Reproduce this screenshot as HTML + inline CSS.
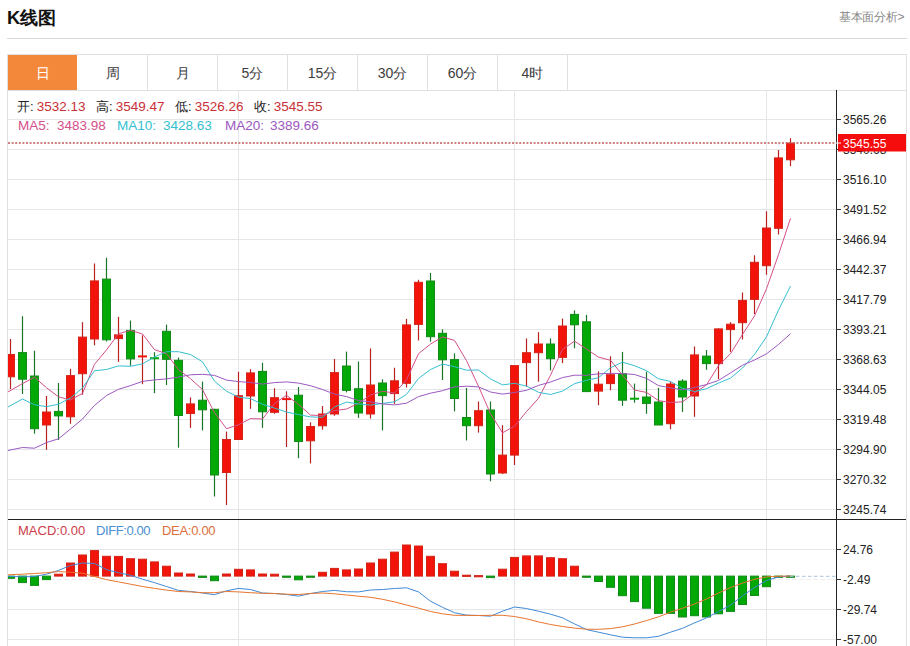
<!DOCTYPE html>
<html><head><meta charset="utf-8">
<style>
*{margin:0;padding:0;box-sizing:border-box}
html,body{width:910px;height:646px;overflow:hidden;background:#fff;font-family:"Liberation Sans",sans-serif}
.title{position:absolute;left:7px;top:6.6px;font-size:18.3px;font-weight:bold;color:#111;line-height:22px;letter-spacing:0}
.more{position:absolute;left:839px;top:10px;font-size:12px;color:#888;line-height:14px;letter-spacing:-0.3px}
.hline{position:absolute;left:7px;top:38px;width:900px;height:1px;background:#d8d8d8}
.box{position:absolute;left:7px;top:54px;width:900px;height:600px;border:1px solid #e0e0e0}
.tabs{position:absolute;left:8px;top:55px;height:35px}
.tab{position:absolute;top:0;width:70px;height:35px;line-height:37px;text-align:center;font-size:14px;color:#3c3c3c;border-right:1px solid #e0e0e0}
.tab.on{background:#f3883b;color:#fff;width:69px;border-right:none}
svg{position:absolute;left:0;top:0}
.g{stroke:#e4e6e9;stroke-width:1}
.ax{font-size:12px;fill:#222;font-family:"Liberation Sans",sans-serif}
.t{position:absolute;font-size:13px;line-height:15px;white-space:nowrap}
.k{color:#222}.v{color:#c83038;font-size:13.5px}
</style></head><body>
<div class="title">K线图</div>
<div class="more">基本面分析&gt;</div>
<div class="hline"></div>
<div class="box"></div>
<div class="tabs">
<div class="tab on" style="left:0">日</div>
<div class="tab" style="left:70px">周</div>
<div class="tab" style="left:140px">月</div>
<div class="tab" style="left:210px">5分</div>
<div class="tab" style="left:280px">15分</div>
<div class="tab" style="left:350px">30分</div>
<div class="tab" style="left:420px">60分</div>
<div class="tab" style="left:490px">4时</div>
</div>
<svg width="910" height="646" viewBox="0 0 910 646">
<defs><clipPath id="cm"><rect x="8" y="91" width="828" height="428"/></clipPath>
<clipPath id="cd"><rect x="8" y="520" width="828" height="126"/></clipPath></defs>
<line x1="8" y1="90.5" x2="907" y2="90.5" stroke="#e0e0e0"/>
<line x1="8" y1="119.5" x2="836" y2="119.5" class="g"/>
<line x1="8" y1="149.5" x2="836" y2="149.5" class="g"/>
<line x1="8" y1="179.5" x2="836" y2="179.5" class="g"/>
<line x1="8" y1="209.5" x2="836" y2="209.5" class="g"/>
<line x1="8" y1="239.5" x2="836" y2="239.5" class="g"/>
<line x1="8" y1="269.5" x2="836" y2="269.5" class="g"/>
<line x1="8" y1="299.5" x2="836" y2="299.5" class="g"/>
<line x1="8" y1="329.5" x2="836" y2="329.5" class="g"/>
<line x1="8" y1="359.5" x2="836" y2="359.5" class="g"/>
<line x1="8" y1="389.5" x2="836" y2="389.5" class="g"/>
<line x1="8" y1="419.5" x2="836" y2="419.5" class="g"/>
<line x1="8" y1="449.5" x2="836" y2="449.5" class="g"/>
<line x1="8" y1="479.5" x2="836" y2="479.5" class="g"/>
<line x1="8" y1="509.5" x2="836" y2="509.5" class="g"/>
<line x1="238.5" y1="90" x2="238.5" y2="519" class="g"/>
<line x1="238.5" y1="519" x2="238.5" y2="646" class="g"/>
<line x1="514.5" y1="90" x2="514.5" y2="519" class="g"/>
<line x1="514.5" y1="519" x2="514.5" y2="646" class="g"/>
<line x1="766.5" y1="90" x2="766.5" y2="519" class="g"/>
<line x1="766.5" y1="519" x2="766.5" y2="646" class="g"/>
<line x1="8" y1="549.5" x2="836" y2="549.5" class="g"/>
<line x1="8" y1="609.5" x2="836" y2="609.5" class="g"/>
<line x1="8" y1="639.5" x2="836" y2="639.5" class="g"/>
<line x1="8" y1="579.5" x2="836" y2="579.5" stroke="#eceef1" stroke-dasharray="5,2"/>
<g clip-path="url(#cm)">
<line x1="10.5" y1="339" x2="10.5" y2="389" stroke="#b82222" stroke-width="1.2"/>
<rect x="6.5" y="354.5" width="8" height="22.3" fill="#f2140a" stroke="#d42418" stroke-width="1"/>
<line x1="22.5" y1="316.2" x2="22.5" y2="394" stroke="#1c7428" stroke-width="1.2"/>
<rect x="18.5" y="352.6" width="8" height="26.6" fill="#02a806" stroke="#128a18" stroke-width="1"/>
<line x1="34.5" y1="350.7" x2="34.5" y2="433.7" stroke="#1c7428" stroke-width="1.2"/>
<rect x="30.5" y="376" width="8" height="52.7" fill="#02a806" stroke="#128a18" stroke-width="1"/>
<line x1="46.5" y1="396" x2="46.5" y2="449.8" stroke="#b82222" stroke-width="1.2"/>
<rect x="42.5" y="412" width="8" height="13" fill="#f2140a" stroke="#d42418" stroke-width="1"/>
<line x1="58.5" y1="383" x2="58.5" y2="440" stroke="#1c7428" stroke-width="1.2"/>
<rect x="54.5" y="411.4" width="8" height="4.5" fill="#02a806" stroke="#128a18" stroke-width="1"/>
<line x1="70.5" y1="368.8" x2="70.5" y2="423.8" stroke="#b82222" stroke-width="1.2"/>
<rect x="66.5" y="375.6" width="8" height="41.2" fill="#f2140a" stroke="#d42418" stroke-width="1"/>
<line x1="82.5" y1="322.2" x2="82.5" y2="394.8" stroke="#b82222" stroke-width="1.2"/>
<rect x="78.5" y="337.1" width="8" height="36.6" fill="#f2140a" stroke="#d42418" stroke-width="1"/>
<line x1="94.5" y1="263.5" x2="94.5" y2="345.3" stroke="#b82222" stroke-width="1.2"/>
<rect x="90.5" y="280.9" width="8" height="58.1" fill="#f2140a" stroke="#d42418" stroke-width="1"/>
<line x1="106.5" y1="257.8" x2="106.5" y2="341.5" stroke="#1c7428" stroke-width="1.2"/>
<rect x="102.5" y="279.1" width="8" height="60.7" fill="#02a806" stroke="#128a18" stroke-width="1"/>
<line x1="118.5" y1="316.8" x2="118.5" y2="361.9" stroke="#b82222" stroke-width="1.2"/>
<rect x="114.5" y="334.9" width="8" height="3.7" fill="#f2140a" stroke="#d42418" stroke-width="1"/>
<line x1="130.5" y1="320.5" x2="130.5" y2="365.8" stroke="#1c7428" stroke-width="1.2"/>
<rect x="126.5" y="330.4" width="8" height="28.5" fill="#02a806" stroke="#128a18" stroke-width="1"/>
<line x1="142.5" y1="335.4" x2="142.5" y2="384.2" stroke="#b82222" stroke-width="1.2"/>
<rect x="138" y="355.4" width="9" height="2" fill="#f2140a"/>
<line x1="154.5" y1="352.2" x2="154.5" y2="393.2" stroke="#1c7428" stroke-width="1.2"/>
<rect x="150" y="357.2" width="9" height="2" fill="#02a806"/>
<line x1="166.5" y1="324.6" x2="166.5" y2="385" stroke="#1c7428" stroke-width="1.2"/>
<rect x="162.5" y="331.3" width="8" height="28" fill="#02a806" stroke="#128a18" stroke-width="1"/>
<line x1="178.5" y1="357.5" x2="178.5" y2="447.7" stroke="#1c7428" stroke-width="1.2"/>
<rect x="174.5" y="360.3" width="8" height="55.2" fill="#02a806" stroke="#128a18" stroke-width="1"/>
<line x1="190.5" y1="397.4" x2="190.5" y2="427.9" stroke="#b82222" stroke-width="1.2"/>
<rect x="186.5" y="403.9" width="8" height="9.6" fill="#f2140a" stroke="#d42418" stroke-width="1"/>
<line x1="202.5" y1="381.6" x2="202.5" y2="430.4" stroke="#1c7428" stroke-width="1.2"/>
<rect x="198.5" y="400.2" width="8" height="9.6" fill="#02a806" stroke="#128a18" stroke-width="1"/>
<line x1="214.5" y1="408.8" x2="214.5" y2="496.5" stroke="#1c7428" stroke-width="1.2"/>
<rect x="210.5" y="409.3" width="8" height="65.7" fill="#02a806" stroke="#128a18" stroke-width="1"/>
<line x1="226.5" y1="431.6" x2="226.5" y2="505" stroke="#b82222" stroke-width="1.2"/>
<rect x="222.5" y="439.5" width="8" height="33" fill="#f2140a" stroke="#d42418" stroke-width="1"/>
<line x1="238.5" y1="371.7" x2="238.5" y2="439.5" stroke="#b82222" stroke-width="1.2"/>
<rect x="234.5" y="395.7" width="8" height="43.8" fill="#f2140a" stroke="#d42418" stroke-width="1"/>
<line x1="250.5" y1="369.2" x2="250.5" y2="408.8" stroke="#b82222" stroke-width="1.2"/>
<rect x="246.5" y="372.9" width="8" height="23.1" fill="#f2140a" stroke="#d42418" stroke-width="1"/>
<line x1="262.5" y1="362.8" x2="262.5" y2="427.9" stroke="#1c7428" stroke-width="1.2"/>
<rect x="258.5" y="371.4" width="8" height="40.4" fill="#02a806" stroke="#128a18" stroke-width="1"/>
<line x1="274.5" y1="388.3" x2="274.5" y2="413.8" stroke="#b82222" stroke-width="1.2"/>
<rect x="270.5" y="397.7" width="8" height="14.6" fill="#f2140a" stroke="#d42418" stroke-width="1"/>
<line x1="286.5" y1="391.3" x2="286.5" y2="447" stroke="#b82222" stroke-width="1.2"/>
<rect x="282" y="398.1" width="9" height="2" fill="#f2140a"/>
<line x1="298.5" y1="387" x2="298.5" y2="458.2" stroke="#1c7428" stroke-width="1.2"/>
<rect x="294.5" y="395.2" width="8" height="46.3" fill="#02a806" stroke="#128a18" stroke-width="1"/>
<line x1="310.5" y1="422.3" x2="310.5" y2="463.5" stroke="#b82222" stroke-width="1.2"/>
<rect x="306.5" y="426.5" width="8" height="14.3" fill="#f2140a" stroke="#d42418" stroke-width="1"/>
<line x1="322.5" y1="406" x2="322.5" y2="429.7" stroke="#b82222" stroke-width="1.2"/>
<rect x="318.5" y="414" width="8" height="11.8" fill="#f2140a" stroke="#d42418" stroke-width="1"/>
<line x1="334.5" y1="359" x2="334.5" y2="415.8" stroke="#b82222" stroke-width="1.2"/>
<rect x="330.5" y="372.6" width="8" height="41.4" fill="#f2140a" stroke="#d42418" stroke-width="1"/>
<line x1="346.5" y1="351.6" x2="346.5" y2="392.4" stroke="#1c7428" stroke-width="1.2"/>
<rect x="342.5" y="366" width="8" height="24.4" fill="#02a806" stroke="#128a18" stroke-width="1"/>
<line x1="358.5" y1="361.5" x2="358.5" y2="417.9" stroke="#1c7428" stroke-width="1.2"/>
<rect x="354.5" y="388.7" width="8" height="24.3" fill="#02a806" stroke="#128a18" stroke-width="1"/>
<line x1="370.5" y1="348.4" x2="370.5" y2="418.6" stroke="#b82222" stroke-width="1.2"/>
<rect x="366.5" y="385" width="8" height="29" fill="#f2140a" stroke="#d42418" stroke-width="1"/>
<line x1="382.5" y1="379.3" x2="382.5" y2="430.4" stroke="#1c7428" stroke-width="1.2"/>
<rect x="378.5" y="383" width="8" height="12.6" fill="#02a806" stroke="#128a18" stroke-width="1"/>
<line x1="394.5" y1="367.7" x2="394.5" y2="403.9" stroke="#b82222" stroke-width="1.2"/>
<rect x="390.5" y="380.8" width="8" height="12.8" fill="#f2140a" stroke="#d42418" stroke-width="1"/>
<line x1="406.5" y1="318.9" x2="406.5" y2="387.5" stroke="#b82222" stroke-width="1.2"/>
<rect x="402.5" y="324.9" width="8" height="58.4" fill="#f2140a" stroke="#d42418" stroke-width="1"/>
<line x1="418.5" y1="279.8" x2="418.5" y2="340.4" stroke="#b82222" stroke-width="1.2"/>
<rect x="414.5" y="282.3" width="8" height="42.1" fill="#f2140a" stroke="#d42418" stroke-width="1"/>
<line x1="430.5" y1="272.9" x2="430.5" y2="341.7" stroke="#1c7428" stroke-width="1.2"/>
<rect x="426.5" y="281" width="8" height="55.7" fill="#02a806" stroke="#128a18" stroke-width="1"/>
<line x1="442.5" y1="329.3" x2="442.5" y2="380" stroke="#1c7428" stroke-width="1.2"/>
<rect x="438.5" y="333.3" width="8" height="26.5" fill="#02a806" stroke="#128a18" stroke-width="1"/>
<line x1="454.5" y1="353.4" x2="454.5" y2="411.4" stroke="#1c7428" stroke-width="1.2"/>
<rect x="450.5" y="359.6" width="8" height="38.9" fill="#02a806" stroke="#128a18" stroke-width="1"/>
<line x1="466.5" y1="387.9" x2="466.5" y2="440.5" stroke="#1c7428" stroke-width="1.2"/>
<rect x="462.5" y="417.5" width="8" height="8.2" fill="#02a806" stroke="#128a18" stroke-width="1"/>
<line x1="478.5" y1="401.5" x2="478.5" y2="432.6" stroke="#b82222" stroke-width="1.2"/>
<rect x="474.5" y="410.7" width="8" height="15" fill="#f2140a" stroke="#d42418" stroke-width="1"/>
<line x1="490.5" y1="401.5" x2="490.5" y2="481.3" stroke="#1c7428" stroke-width="1.2"/>
<rect x="486.5" y="410" width="8" height="64" fill="#02a806" stroke="#128a18" stroke-width="1"/>
<line x1="502.5" y1="425.1" x2="502.5" y2="474" stroke="#b82222" stroke-width="1.2"/>
<rect x="498.5" y="455.1" width="8" height="17.9" fill="#f2140a" stroke="#d42418" stroke-width="1"/>
<line x1="514.5" y1="365.6" x2="514.5" y2="465" stroke="#b82222" stroke-width="1.2"/>
<rect x="510.5" y="365.6" width="8" height="89.5" fill="#f2140a" stroke="#d42418" stroke-width="1"/>
<line x1="526.5" y1="338.4" x2="526.5" y2="386.6" stroke="#b82222" stroke-width="1.2"/>
<rect x="522.5" y="352.7" width="8" height="9.9" fill="#f2140a" stroke="#d42418" stroke-width="1"/>
<line x1="538.5" y1="332.2" x2="538.5" y2="381.7" stroke="#b82222" stroke-width="1.2"/>
<rect x="534.5" y="344" width="8" height="8.7" fill="#f2140a" stroke="#d42418" stroke-width="1"/>
<line x1="550.5" y1="338.4" x2="550.5" y2="370.5" stroke="#1c7428" stroke-width="1.2"/>
<rect x="546.5" y="344" width="8" height="14.7" fill="#02a806" stroke="#128a18" stroke-width="1"/>
<line x1="562.5" y1="318.6" x2="562.5" y2="363.1" stroke="#b82222" stroke-width="1.2"/>
<rect x="558.5" y="326" width="8" height="31.4" fill="#f2140a" stroke="#d42418" stroke-width="1"/>
<line x1="574.5" y1="310.4" x2="574.5" y2="348.3" stroke="#1c7428" stroke-width="1.2"/>
<rect x="570.5" y="314.4" width="8" height="10.4" fill="#02a806" stroke="#128a18" stroke-width="1"/>
<line x1="586.5" y1="314.9" x2="586.5" y2="391.6" stroke="#1c7428" stroke-width="1.2"/>
<rect x="582.5" y="321.8" width="8" height="69.8" fill="#02a806" stroke="#128a18" stroke-width="1"/>
<line x1="598.5" y1="371.3" x2="598.5" y2="405.2" stroke="#b82222" stroke-width="1.2"/>
<rect x="594.5" y="384.2" width="8" height="6.9" fill="#f2140a" stroke="#d42418" stroke-width="1"/>
<line x1="610.5" y1="356.3" x2="610.5" y2="390.3" stroke="#b82222" stroke-width="1.2"/>
<rect x="606.5" y="374.7" width="8" height="8.9" fill="#f2140a" stroke="#d42418" stroke-width="1"/>
<line x1="622.5" y1="351.9" x2="622.5" y2="405.9" stroke="#1c7428" stroke-width="1.2"/>
<rect x="618.5" y="373.7" width="8" height="26.5" fill="#02a806" stroke="#128a18" stroke-width="1"/>
<line x1="634.5" y1="383.6" x2="634.5" y2="402.7" stroke="#1c7428" stroke-width="1.2"/>
<rect x="630" y="397.7" width="9" height="2" fill="#02a806"/>
<line x1="646.5" y1="371.7" x2="646.5" y2="413.8" stroke="#1c7428" stroke-width="1.2"/>
<rect x="642.5" y="397" width="8" height="6.4" fill="#02a806" stroke="#128a18" stroke-width="1"/>
<line x1="658.5" y1="387.8" x2="658.5" y2="425" stroke="#1c7428" stroke-width="1.2"/>
<rect x="654.5" y="402" width="8" height="23" fill="#02a806" stroke="#128a18" stroke-width="1"/>
<line x1="670.5" y1="381.6" x2="670.5" y2="429.2" stroke="#b82222" stroke-width="1.2"/>
<rect x="666.5" y="384" width="8" height="39.7" fill="#f2140a" stroke="#d42418" stroke-width="1"/>
<line x1="682.5" y1="379.2" x2="682.5" y2="411.9" stroke="#1c7428" stroke-width="1.2"/>
<rect x="678.5" y="381.1" width="8" height="15.9" fill="#02a806" stroke="#128a18" stroke-width="1"/>
<line x1="694.5" y1="346.5" x2="694.5" y2="416.8" stroke="#b82222" stroke-width="1.2"/>
<rect x="690.5" y="354.9" width="8" height="41.1" fill="#f2140a" stroke="#d42418" stroke-width="1"/>
<line x1="706.5" y1="350" x2="706.5" y2="369.8" stroke="#1c7428" stroke-width="1.2"/>
<rect x="702.5" y="356.1" width="8" height="7.5" fill="#02a806" stroke="#128a18" stroke-width="1"/>
<line x1="718.5" y1="328.4" x2="718.5" y2="379.2" stroke="#b82222" stroke-width="1.2"/>
<rect x="714.5" y="328.9" width="8" height="34.7" fill="#f2140a" stroke="#d42418" stroke-width="1"/>
<line x1="730.5" y1="322.2" x2="730.5" y2="351.9" stroke="#b82222" stroke-width="1.2"/>
<rect x="726.5" y="324.2" width="8" height="5.4" fill="#f2140a" stroke="#d42418" stroke-width="1"/>
<line x1="742.5" y1="292.5" x2="742.5" y2="339.5" stroke="#b82222" stroke-width="1.2"/>
<rect x="738.5" y="300.4" width="8" height="22.3" fill="#f2140a" stroke="#d42418" stroke-width="1"/>
<line x1="754.5" y1="255.3" x2="754.5" y2="314" stroke="#b82222" stroke-width="1.2"/>
<rect x="750.5" y="262.3" width="8" height="37.1" fill="#f2140a" stroke="#d42418" stroke-width="1"/>
<line x1="766.5" y1="211.3" x2="766.5" y2="274.8" stroke="#b82222" stroke-width="1.2"/>
<rect x="762.5" y="228" width="8" height="37.7" fill="#f2140a" stroke="#d42418" stroke-width="1"/>
<line x1="778.5" y1="150" x2="778.5" y2="234.5" stroke="#b82222" stroke-width="1.2"/>
<rect x="774.5" y="157.9" width="8" height="70.4" fill="#f2140a" stroke="#d42418" stroke-width="1"/>
<line x1="790.5" y1="138.2" x2="790.5" y2="166.2" stroke="#b82222" stroke-width="1.2"/>
<rect x="786.5" y="143.1" width="8" height="16.7" fill="#f2140a" stroke="#d42418" stroke-width="1"/>
<path d="M8,391.9 L22.5,383.6 L34.5,377.2 L46.5,387.8 L58.5,396.8 L70.5,400 L82.5,393.4 L94.5,364.3 L106.5,349.9 L118.5,333.7 L130.5,330.3 L142.5,334 L154.5,349.7 L166.5,353.6 L178.5,369.7 L190.5,378.7 L202.5,389.6 L214.5,412.7 L226.5,428.7 L238.5,424.8 L250.5,418.6 L262.5,419 L274.5,403.5 L286.5,395.3 L298.5,404.4 L310.5,415.1 L322.5,415.6 L334.5,410.6 L346.5,409 L358.5,403.3 L370.5,395 L382.5,391.3 L394.5,393 L406.5,379.9 L418.5,353.7 L430.5,344.1 L442.5,336.9 L454.5,340.4 L466.5,360.6 L478.5,386.3 L490.5,413.7 L502.5,432.8 L514.5,426.2 L526.5,411.6 L538.5,398.3 L550.5,375.2 L562.5,349.4 L574.5,341.2 L586.5,349 L598.5,357.1 L610.5,360.3 L622.5,375.1 L634.5,390.1 L646.5,392.4 L658.5,400.6 L670.5,402.5 L682.5,401.8 L694.5,392.9 L706.5,384.9 L718.5,365.7 L730.5,353.7 L742.5,334.4 L754.5,315.9 L766.5,288.8 L778.5,254.6 L790.5,218.3" fill="none" stroke="#d4508a" stroke-width="1"/>
<path d="M8,407 L22.5,399 L34.5,404.8 L46.5,406.6 L58.5,404.2 L70.5,398 L82.5,388 L94.5,370.7 L106.5,369.5 L118.5,365.9 L130.5,366.3 L142.5,363.9 L154.5,357 L166.5,351.7 L178.5,351.7 L190.5,354.5 L202.5,361.8 L214.5,381.2 L226.5,391.2 L238.5,397.2 L250.5,398.6 L262.5,404.3 L274.5,408.1 L286.5,412 L298.5,414.6 L310.5,416.9 L322.5,417.3 L334.5,407 L346.5,402.1 L358.5,403.9 L370.5,405.1 L382.5,403.4 L394.5,401.8 L406.5,394.4 L418.5,378.5 L430.5,369.5 L442.5,364.1 L454.5,366.7 L466.5,370.2 L478.5,370 L490.5,378.9 L502.5,384.9 L514.5,383.3 L526.5,386.1 L538.5,392.3 L550.5,394.5 L562.5,391.1 L574.5,383.7 L586.5,380.3 L598.5,377.7 L610.5,367.7 L622.5,362.2 L634.5,365.7 L646.5,370.7 L658.5,378.8 L670.5,381.4 L682.5,388.5 L694.5,391.5 L706.5,388.7 L718.5,383.1 L730.5,378.1 L742.5,368.1 L754.5,354.4 L766.5,336.8 L778.5,310.1 L790.5,286" fill="none" stroke="#35bfd0" stroke-width="1"/>
<path d="M8,450.5 L22.5,447.5 L34.5,448.2 L46.5,442.5 L58.5,438.8 L70.5,429 L82.5,419 L94.5,405.4 L106.5,395.5 L118.5,389.3 L130.5,385.6 L142.5,381.4 L154.5,379.9 L166.5,378.9 L178.5,377 L190.5,374.8 L202.5,374.3 L214.5,375.4 L226.5,380.1 L238.5,381.6 L250.5,382.5 L262.5,384.1 L274.5,382.6 L286.5,381.9 L298.5,383.1 L310.5,385.7 L322.5,389.5 L334.5,394.1 L346.5,396.6 L358.5,400.6 L370.5,401.9 L382.5,403.9 L394.5,404.9 L406.5,403.2 L418.5,396.6 L430.5,393.2 L442.5,390.7 L454.5,386.9 L466.5,386.2 L478.5,386.9 L490.5,392 L502.5,394.1 L514.5,392.5 L526.5,390.3 L538.5,385.4 L550.5,382 L562.5,377.6 L574.5,375.2 L586.5,375.3 L598.5,373.8 L610.5,373.3 L622.5,373.6 L634.5,374.5 L646.5,378.4 L658.5,385.6 L670.5,387.9 L682.5,389.8 L694.5,387.6 L706.5,384.5 L718.5,380.4 L730.5,372.9 L742.5,365.2 L754.5,360 L766.5,353.8 L778.5,344.5 L790.5,333.7" fill="none" stroke="#9c58c0" stroke-width="1"/>
<line x1="8" y1="143" x2="836" y2="143" stroke="#c05858" stroke-width="1.3" stroke-dasharray="2,1.6"/>
</g>
<g clip-path="url(#cd)">
<rect x="6.5" y="576.1" width="8" height="2.2" fill="#02a806" stroke="#128a18" stroke-width="1"/>
<rect x="18.5" y="576.1" width="8" height="6.5" fill="#02a806" stroke="#128a18" stroke-width="1"/>
<rect x="30.5" y="576.1" width="8" height="9.3" fill="#02a806" stroke="#128a18" stroke-width="1"/>
<rect x="42.5" y="576.1" width="8" height="3.5" fill="#02a806" stroke="#128a18" stroke-width="1"/>
<rect x="54.5" y="574.2" width="8" height="1.9" fill="#f2140a" stroke="#d42418" stroke-width="1"/>
<rect x="66.5" y="563" width="8" height="13.1" fill="#f2140a" stroke="#d42418" stroke-width="1"/>
<rect x="78.5" y="555" width="8" height="21.1" fill="#f2140a" stroke="#d42418" stroke-width="1"/>
<rect x="90.5" y="550.6" width="8" height="25.5" fill="#f2140a" stroke="#d42418" stroke-width="1"/>
<rect x="102.5" y="556.3" width="8" height="19.8" fill="#f2140a" stroke="#d42418" stroke-width="1"/>
<rect x="114.5" y="556.4" width="8" height="19.7" fill="#f2140a" stroke="#d42418" stroke-width="1"/>
<rect x="126.5" y="558.7" width="8" height="17.4" fill="#f2140a" stroke="#d42418" stroke-width="1"/>
<rect x="138.5" y="559.2" width="8" height="16.9" fill="#f2140a" stroke="#d42418" stroke-width="1"/>
<rect x="150.5" y="561.9" width="8" height="14.2" fill="#f2140a" stroke="#d42418" stroke-width="1"/>
<rect x="162.5" y="566.2" width="8" height="9.9" fill="#f2140a" stroke="#d42418" stroke-width="1"/>
<rect x="174.5" y="573" width="8" height="3.1" fill="#f2140a" stroke="#d42418" stroke-width="1"/>
<rect x="186.5" y="574" width="8" height="2.1" fill="#f2140a" stroke="#d42418" stroke-width="1"/>
<rect x="198.5" y="576.1" width="8" height="1.3" fill="#02a806" stroke="#128a18" stroke-width="1"/>
<rect x="210.5" y="576.1" width="8" height="4.6" fill="#02a806" stroke="#128a18" stroke-width="1"/>
<rect x="222.5" y="574" width="8" height="2.1" fill="#f2140a" stroke="#d42418" stroke-width="1"/>
<rect x="234.5" y="569.3" width="8" height="6.8" fill="#f2140a" stroke="#d42418" stroke-width="1"/>
<rect x="246.5" y="569.9" width="8" height="6.2" fill="#f2140a" stroke="#d42418" stroke-width="1"/>
<rect x="258.5" y="574" width="8" height="2.1" fill="#f2140a" stroke="#d42418" stroke-width="1"/>
<rect x="270.5" y="574.2" width="8" height="1.9" fill="#f2140a" stroke="#d42418" stroke-width="1"/>
<rect x="282.5" y="576.1" width="8" height="1.2" fill="#02a806" stroke="#128a18" stroke-width="1"/>
<rect x="294.5" y="576.1" width="8" height="3.7" fill="#02a806" stroke="#128a18" stroke-width="1"/>
<rect x="306.5" y="576.1" width="8" height="1.2" fill="#02a806" stroke="#128a18" stroke-width="1"/>
<rect x="318.5" y="572.3" width="8" height="3.8" fill="#f2140a" stroke="#d42418" stroke-width="1"/>
<rect x="330.5" y="568.4" width="8" height="7.7" fill="#f2140a" stroke="#d42418" stroke-width="1"/>
<rect x="342.5" y="569.9" width="8" height="6.2" fill="#f2140a" stroke="#d42418" stroke-width="1"/>
<rect x="354.5" y="569" width="8" height="7.1" fill="#f2140a" stroke="#d42418" stroke-width="1"/>
<rect x="366.5" y="563" width="8" height="13.1" fill="#f2140a" stroke="#d42418" stroke-width="1"/>
<rect x="378.5" y="559.2" width="8" height="16.9" fill="#f2140a" stroke="#d42418" stroke-width="1"/>
<rect x="390.5" y="552.1" width="8" height="24" fill="#f2140a" stroke="#d42418" stroke-width="1"/>
<rect x="402.5" y="545" width="8" height="31.1" fill="#f2140a" stroke="#d42418" stroke-width="1"/>
<rect x="414.5" y="546" width="8" height="30.1" fill="#f2140a" stroke="#d42418" stroke-width="1"/>
<rect x="426.5" y="556.3" width="8" height="19.8" fill="#f2140a" stroke="#d42418" stroke-width="1"/>
<rect x="438.5" y="563.7" width="8" height="12.4" fill="#f2140a" stroke="#d42418" stroke-width="1"/>
<rect x="450.5" y="571.2" width="8" height="4.9" fill="#f2140a" stroke="#d42418" stroke-width="1"/>
<rect x="462.5" y="575.2" width="8" height="1.2" fill="#f2140a" stroke="#d42418" stroke-width="1"/>
<rect x="474.5" y="575.6" width="8" height="1.2" fill="#f2140a" stroke="#d42418" stroke-width="1"/>
<rect x="486.5" y="576.1" width="8" height="1.5" fill="#02a806" stroke="#128a18" stroke-width="1"/>
<rect x="498.5" y="569.2" width="8" height="6.9" fill="#f2140a" stroke="#d42418" stroke-width="1"/>
<rect x="510.5" y="557.4" width="8" height="18.7" fill="#f2140a" stroke="#d42418" stroke-width="1"/>
<rect x="522.5" y="555.9" width="8" height="20.2" fill="#f2140a" stroke="#d42418" stroke-width="1"/>
<rect x="534.5" y="555.9" width="8" height="20.2" fill="#f2140a" stroke="#d42418" stroke-width="1"/>
<rect x="546.5" y="557.7" width="8" height="18.4" fill="#f2140a" stroke="#d42418" stroke-width="1"/>
<rect x="558.5" y="558.7" width="8" height="17.4" fill="#f2140a" stroke="#d42418" stroke-width="1"/>
<rect x="570.5" y="566.2" width="8" height="9.9" fill="#f2140a" stroke="#d42418" stroke-width="1"/>
<rect x="582.5" y="576.1" width="8" height="1.2" fill="#02a806" stroke="#128a18" stroke-width="1"/>
<rect x="594.5" y="576.1" width="8" height="5.4" fill="#02a806" stroke="#128a18" stroke-width="1"/>
<rect x="606.5" y="576.1" width="8" height="11.2" fill="#02a806" stroke="#128a18" stroke-width="1"/>
<rect x="618.5" y="576.1" width="8" height="19.6" fill="#02a806" stroke="#128a18" stroke-width="1"/>
<rect x="630.5" y="576.1" width="8" height="25.5" fill="#02a806" stroke="#128a18" stroke-width="1"/>
<rect x="642.5" y="576.1" width="8" height="32.1" fill="#02a806" stroke="#128a18" stroke-width="1"/>
<rect x="654.5" y="576.1" width="8" height="37.3" fill="#02a806" stroke="#128a18" stroke-width="1"/>
<rect x="666.5" y="576.1" width="8" height="37.3" fill="#02a806" stroke="#128a18" stroke-width="1"/>
<rect x="678.5" y="576.1" width="8" height="40.9" fill="#02a806" stroke="#128a18" stroke-width="1"/>
<rect x="690.5" y="576.1" width="8" height="39.6" fill="#02a806" stroke="#128a18" stroke-width="1"/>
<rect x="702.5" y="576.1" width="8" height="40.9" fill="#02a806" stroke="#128a18" stroke-width="1"/>
<rect x="714.5" y="576.1" width="8" height="37.7" fill="#02a806" stroke="#128a18" stroke-width="1"/>
<rect x="726.5" y="576.1" width="8" height="35.3" fill="#02a806" stroke="#128a18" stroke-width="1"/>
<rect x="738.5" y="576.1" width="8" height="28.4" fill="#02a806" stroke="#128a18" stroke-width="1"/>
<rect x="750.5" y="576.1" width="8" height="19.4" fill="#02a806" stroke="#128a18" stroke-width="1"/>
<rect x="762.5" y="576.1" width="8" height="10.6" fill="#02a806" stroke="#128a18" stroke-width="1"/>
<rect x="774.5" y="576.1" width="8" height="1.2" fill="#02a806" stroke="#128a18" stroke-width="1"/>
<rect x="786.5" y="576.1" width="8" height="1.2" fill="#02a806" stroke="#128a18" stroke-width="1"/>
<path d="M8,576.4 L22.5,576.8 L34.5,576.5 L46.5,574.2 L58.5,570.4 L70.5,565.5 L82.5,563 L94.5,563.5 L106.5,569.6 L118.5,572.7 L130.5,575.3 L142.5,579.2 L154.5,582.7 L166.5,586.5 L178.5,590.4 L190.5,591.5 L202.5,593 L214.5,594.7 L226.5,590.8 L238.5,588.4 L250.5,589.5 L262.5,593 L274.5,593.5 L286.5,594.5 L298.5,596.1 L310.5,593.5 L322.5,591.5 L334.5,590.4 L346.5,591.7 L358.5,591.9 L370.5,590 L382.5,589.5 L394.5,588.5 L406.5,587.8 L418.5,591.9 L430.5,601.2 L442.5,607.3 L454.5,612.7 L466.5,615.1 L478.5,615.5 L490.5,616.2 L502.5,611.2 L514.5,607 L526.5,608.5 L538.5,611.2 L550.5,614.2 L562.5,617.8 L574.5,623.9 L586.5,629.6 L598.5,632.2 L610.5,634.8 L622.5,637.2 L634.5,637.8 L646.5,637.8 L658.5,636.3 L670.5,632.2 L682.5,628.3 L694.5,622.9 L706.5,617.9 L718.5,611.5 L730.5,605.2 L742.5,595.8 L754.5,587.5 L766.5,580.6 L778.5,576.9 L790.5,576" fill="none" stroke="#3f8ad6" stroke-width="1"/>
<path d="M8,574.8 L22.5,574.2 L34.5,573.5 L46.5,572.7 L58.5,571.6 L70.5,572.2 L82.5,573.2 L94.5,576.5 L106.5,579.6 L118.5,581.9 L130.5,584.2 L142.5,586.5 L154.5,588.4 L166.5,590.1 L178.5,591.5 L190.5,591.9 L202.5,592.7 L214.5,592.7 L226.5,591.5 L238.5,591.9 L250.5,592.7 L262.5,593.3 L274.5,593.5 L286.5,594.2 L298.5,594.5 L310.5,593.5 L322.5,593 L334.5,593.8 L346.5,595 L358.5,596.2 L370.5,597.3 L382.5,599.3 L394.5,601.9 L406.5,605 L418.5,608.1 L430.5,611.5 L442.5,613.8 L454.5,615.3 L466.5,615.4 L478.5,615.5 L490.5,615.3 L502.5,615.3 L514.5,616.5 L526.5,618.8 L538.5,621.9 L550.5,624.5 L562.5,626.5 L574.5,628.1 L586.5,629.2 L598.5,629.3 L610.5,628.6 L622.5,626.8 L634.5,624 L646.5,620.6 L658.5,616.8 L670.5,612.2 L682.5,608.3 L694.5,604 L706.5,599 L718.5,593 L730.5,587.5 L742.5,583.1 L754.5,579.3 L766.5,576.9 L778.5,576.3 L790.5,576" fill="none" stroke="#e8752e" stroke-width="1"/>
</g>
<line x1="790" y1="576.3" x2="836" y2="576.3" stroke="#a9c4dc" stroke-width="1" stroke-dasharray="3.5,2.5"/>
<line x1="836.5" y1="90" x2="836.5" y2="646" stroke="#222"/>
<line x1="8" y1="519.5" x2="906" y2="519.5" stroke="#222"/>
<line x1="836" y1="119.5" x2="841" y2="119.5" stroke="#333"/>
<text x="843" y="124" class="ax">3565.26</text>
<line x1="836" y1="149.5" x2="841" y2="149.5" stroke="#333"/>
<text x="843" y="154" class="ax">3540.68</text>
<line x1="836" y1="179.5" x2="841" y2="179.5" stroke="#333"/>
<text x="843" y="184" class="ax">3516.10</text>
<line x1="836" y1="209.5" x2="841" y2="209.5" stroke="#333"/>
<text x="843" y="214" class="ax">3491.52</text>
<line x1="836" y1="239.5" x2="841" y2="239.5" stroke="#333"/>
<text x="843" y="244" class="ax">3466.94</text>
<line x1="836" y1="269.5" x2="841" y2="269.5" stroke="#333"/>
<text x="843" y="274" class="ax">3442.37</text>
<line x1="836" y1="299.5" x2="841" y2="299.5" stroke="#333"/>
<text x="843" y="304" class="ax">3417.79</text>
<line x1="836" y1="329.5" x2="841" y2="329.5" stroke="#333"/>
<text x="843" y="334" class="ax">3393.21</text>
<line x1="836" y1="359.5" x2="841" y2="359.5" stroke="#333"/>
<text x="843" y="364" class="ax">3368.63</text>
<line x1="836" y1="389.5" x2="841" y2="389.5" stroke="#333"/>
<text x="843" y="394" class="ax">3344.05</text>
<line x1="836" y1="419.5" x2="841" y2="419.5" stroke="#333"/>
<text x="843" y="424" class="ax">3319.48</text>
<line x1="836" y1="449.5" x2="841" y2="449.5" stroke="#333"/>
<text x="843" y="454" class="ax">3294.90</text>
<line x1="836" y1="479.5" x2="841" y2="479.5" stroke="#333"/>
<text x="843" y="484" class="ax">3270.32</text>
<line x1="836" y1="509.5" x2="841" y2="509.5" stroke="#333"/>
<text x="843" y="514" class="ax">3245.74</text>
<line x1="836" y1="549.5" x2="841" y2="549.5" stroke="#333"/>
<text x="843" y="554" class="ax">24.76</text>
<line x1="836" y1="579.5" x2="841" y2="579.5" stroke="#333"/>
<text x="843" y="584" class="ax">-2.49</text>
<line x1="836" y1="609.5" x2="841" y2="609.5" stroke="#333"/>
<text x="843" y="614" class="ax">-29.74</text>
<line x1="836" y1="639.5" x2="841" y2="639.5" stroke="#333"/>
<text x="843" y="644" class="ax">-57.00</text>
<rect x="838" y="134" width="68" height="17.5" fill="#f50c0c"/>
<text x="843" y="147.5" class="ax" style="fill:#fff">3545.55</text>
<line x1="836" y1="143" x2="841" y2="143" stroke="#fff"/>
</svg>
<div class="t k" style="left:17px;top:99px">开:</div><div class="t v"  style="left:36.8px;top:99.3px">3532.13</div>
<div class="t k" style="left:96px;top:99px">高:</div><div class="t v"  style="left:115.8px;top:99.3px">3549.47</div>
<div class="t k" style="left:175px;top:99px">低:</div><div class="t v"  style="left:194.8px;top:99.3px">3526.26</div>
<div class="t k" style="left:254px;top:99px">收:</div><div class="t v"  style="left:273.8px;top:99.3px">3545.55</div>
<div class="t" style="left:18px;top:117.5px;font-size:13.5px;color:#d4508a">MA5:</div><div class="t" style="left:57px;top:117.5px;font-size:13.5px;color:#d4508a">3483.98</div>
<div class="t" style="left:117px;top:117.5px;font-size:13.5px;color:#35bfd0">MA10:</div><div class="t" style="left:163px;top:117.5px;font-size:13.5px;color:#35bfd0">3428.63</div>
<div class="t" style="left:225px;top:117.5px;font-size:13.5px;color:#9c58c0">MA20:</div><div class="t" style="left:270px;top:117.5px;font-size:13.5px;color:#9c58c0">3389.66</div>
<div class="t" style="left:18px;top:523px;color:#cc3d48">MACD:0.00</div>
<div class="t" style="left:96px;top:523px;color:#4a8fd0;letter-spacing:-0.4px">DIFF:0.00</div>
<div class="t" style="left:162px;top:523px;color:#dc6e3c;letter-spacing:-0.3px">DEA:0.00</div>
</body></html>
